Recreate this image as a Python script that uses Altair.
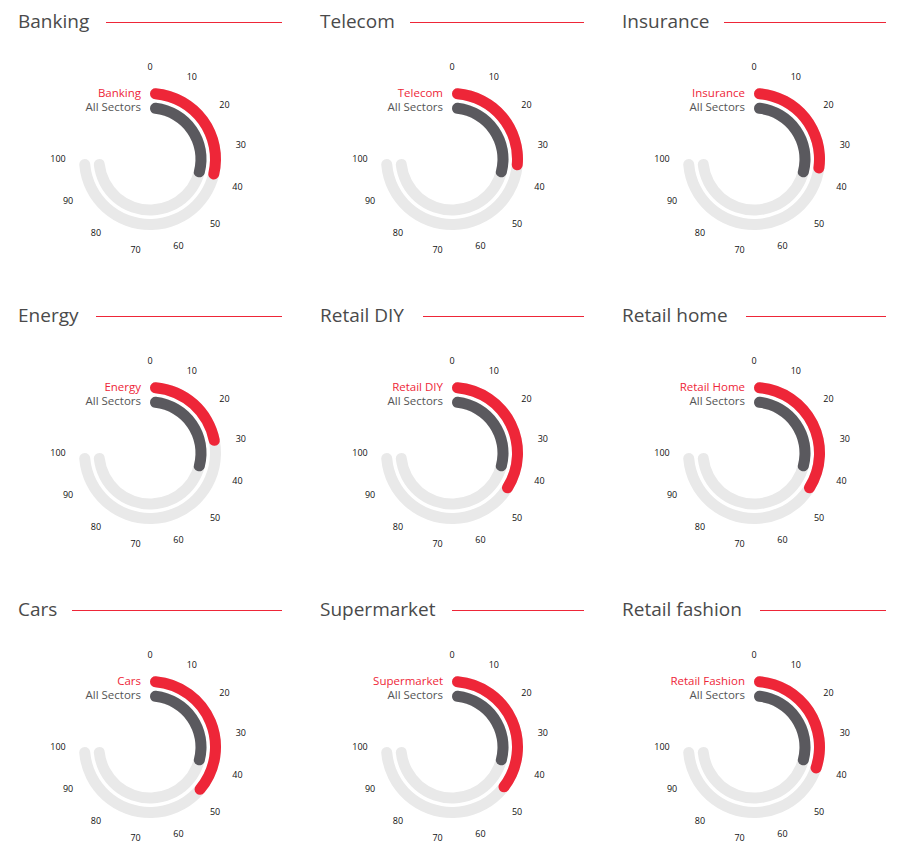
import altair as alt
import pandas as pd
import math

# ---- data ----
titles = ["Banking", "Telecom", "Insurance", "Energy", "Retail DIY",
          "Retail home", "Cars", "Supermarket", "Retail fashion"]
sector_labels = ["Banking", "Telecom", "Insurance", "Energy", "Retail DIY",
                 "Retail Home", "Cars", "Supermarket", "Retail Fashion"]
sector_values = [40, 37, 38, 31, 47, 47, 50, 49, 42]
all_sectors_label = "All Sectors"
all_sectors_value = 41
ticks = [0, 10, 20, 30, 40, 50, 60, 70, 80, 90, 100]
scale_max = 100

# ---- layout / style ----
title_line_start = [88, 90, 102, 78, 103, 124, 54, 132, 138]
PW, PH = 264, 294
RED = "#ee2638"
DARK = "#5a595e"
LIGHT = "#e9e9e9"
FONT = "Open Sans"

theta_scale = alt.Scale(domain=[0, scale_max], range=[0, 1.5 * math.pi])


def panel(i):
    title = titles[i]
    arcs = pd.DataFrame({
        "start": [0, 0, 0, 0],
        "end": [scale_max, scale_max, sector_values[i], all_sectors_value],
        "ring": ["bg_out", "bg_in", "sector", "all"],
    })
    base = alt.Chart(arcs).encode(
        theta=alt.Theta("end:Q", scale=theta_scale),
        theta2="start:Q",
    )
    bg_out = base.transform_filter(alt.datum.ring == "bg_out").mark_arc(
        radius=71, radius2=60, cornerRadius=6, color=LIGHT)
    bg_in = base.transform_filter(alt.datum.ring == "bg_in").mark_arc(
        radius=56.5, radius2=45.5, cornerRadius=6, color=LIGHT)
    red = base.transform_filter(alt.datum.ring == "sector").mark_arc(
        radius=71, radius2=60, cornerRadius=6, color=RED)
    dark = base.transform_filter(alt.datum.ring == "all").mark_arc(
        radius=56.5, radius2=45.5, cornerRadius=6, color=DARK)

    tick_df = pd.DataFrame({"tick": ticks})
    tick_text = alt.Chart(tick_df).mark_text(
        radius=92, fontSize=9, font=FONT, color="#111111",
        align="center", baseline="middle",
    ).encode(
        theta=alt.Theta("tick:Q", scale=theta_scale),
        text="tick:Q",
    )

    lab_df = pd.DataFrame({"start": [0], "sec": [sector_labels[i]],
                           "all": [all_sectors_label]})
    lab_sec = alt.Chart(lab_df).mark_text(
        radius=65.5, align="right", baseline="middle", dx=-9,
        fontSize=11.5, font=FONT, color=RED,
    ).encode(theta=alt.Theta("start:Q", scale=theta_scale), text="sec:N")
    lab_all = alt.Chart(lab_df).mark_text(
        radius=51, align="right", baseline="middle", dx=-9,
        fontSize=11.5, font=FONT, color="#555555",
    ).encode(theta=alt.Theta("start:Q", scale=theta_scale), text="all:N")

    t_df = pd.DataFrame({"t": [title]})
    ttl = alt.Chart(t_df).mark_text(
        align="left", baseline="middle", fontSize=19, font=FONT,
        color="#4a4a4a",
    ).encode(text="t:N", x=alt.value(0), y=alt.value(10))
    line = alt.Chart(t_df).mark_rule(color=RED, strokeWidth=1).encode(
        x=alt.value(title_line_start[i]), x2=alt.value(PW), y=alt.value(10.5))

    return alt.layer(bg_out, bg_in, red, dark, tick_text, lab_sec, lab_all,
                     ttl, line).properties(width=PW, height=PH)


rows = []
for r in range(3):
    rows.append(alt.hconcat(*[panel(r * 3 + c) for c in range(3)],
                            spacing=37))

chart = alt.vconcat(*rows, spacing=0).properties(
    padding={"left": 10, "top": 4, "right": 5, "bottom": 5}
).configure_view(stroke=None)

chart.save("out.html", embed_options={"renderer": "svg", "actions": False})
